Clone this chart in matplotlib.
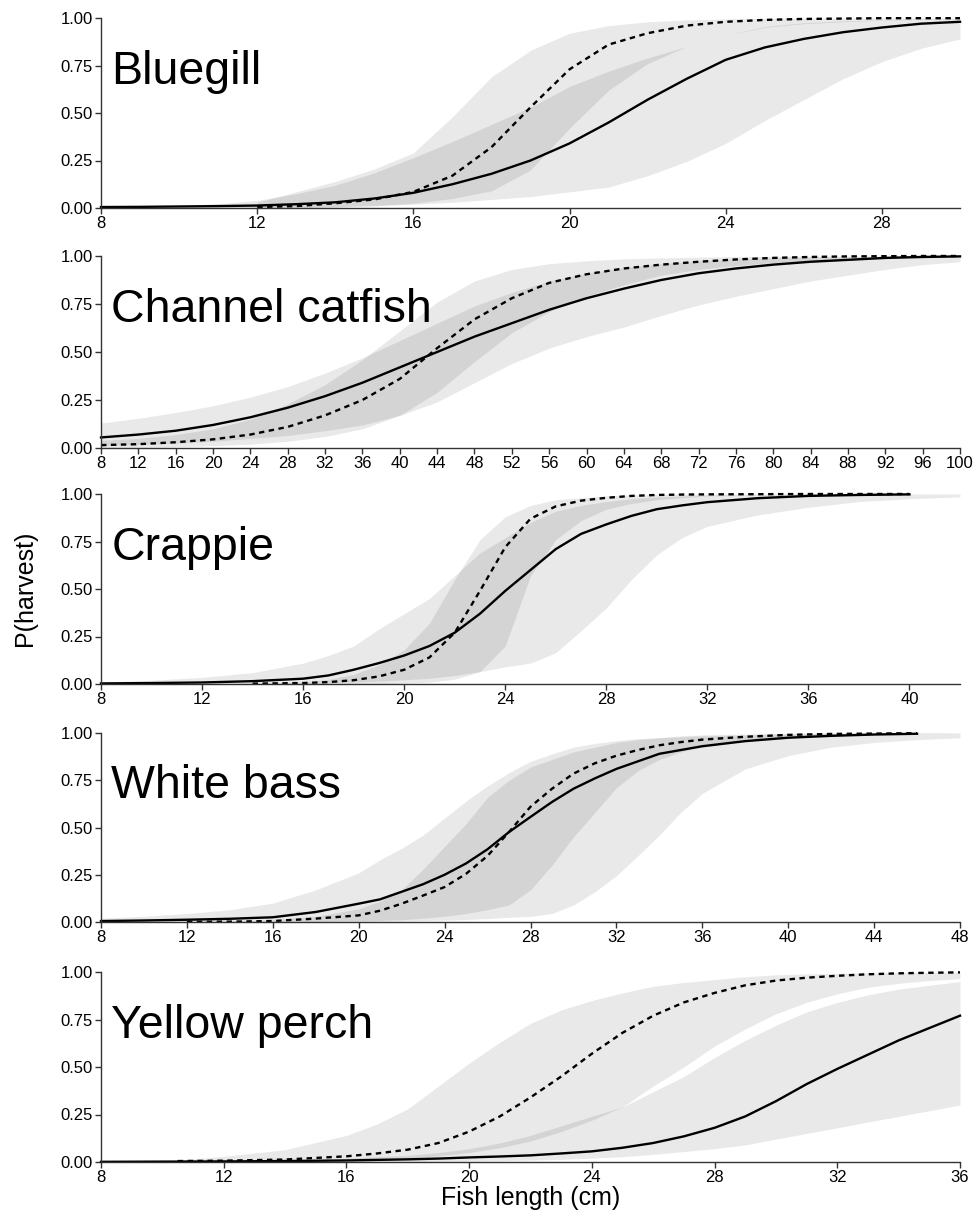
import numpy as np
import matplotlib
matplotlib.use('Agg')
import matplotlib.pyplot as plt

plt.rcParams['font.family'] = ['Liberation Sans', 'DejaVu Sans']

# ---- Bluegill ----
BG_X = [8, 9, 10, 11, 12, 13, 14, 15, 16, 17, 18, 19, 20, 21, 22, 23, 24, 25, 26, 27, 28, 29, 30]
BG_SOLID = [0.005, 0.006, 0.008, 0.010, 0.013, 0.020, 0.030, 0.050, 0.080, 0.125, 0.180, 0.250,
            0.340, 0.450, 0.570, 0.680, 0.780, 0.845, 0.890, 0.925, 0.950, 0.970, 0.980]
BG_SOLID_LO = [0, 0, 0, 0.001, 0.002, 0.004, 0.007, 0.012, 0.020, 0.030, 0.045, 0.060,
               0.085, 0.110, 0.170, 0.245, 0.340, 0.460, 0.570, 0.680, 0.770, 0.840, 0.890]
BG_SOLID_HI = [0.006, 0.008, 0.012, 0.022, 0.040, 0.075, 0.120, 0.185, 0.265, 0.350, 0.440, 0.530,
               0.640, 0.720, 0.790, 0.850, 0.910, 0.955, 0.975, 0.985, 0.990, 0.995, 0.997]
BG_DX = [12, 13, 14, 15, 16, 17, 18, 19, 20, 21, 22, 23, 24, 25, 26, 27, 28, 29, 30]
BG_DASH = [0.005, 0.010, 0.025, 0.045, 0.085, 0.170, 0.320, 0.530, 0.730, 0.860, 0.920, 0.960,
           0.980, 0.990, 0.995, 0.997, 0.999, 0.999, 0.999]
BG_DASH_LO = [0, 0.002, 0.005, 0.012, 0.025, 0.050, 0.090, 0.200, 0.420, 0.620, 0.760, 0.850,
              0.910, 0.950, 0.970, 0.980, 0.988, 0.992, 0.995]
BG_DASH_HI = [0.030, 0.085, 0.140, 0.205, 0.290, 0.480, 0.690, 0.830, 0.920, 0.960, 0.980, 0.990,
              0.995, 0.998, 0.999, 1.0, 1.0, 1.0, 1.0]

# ---- Channel catfish ----
CC_X = [8, 12, 16, 20, 24, 28, 32, 36, 40, 44, 48, 52, 56, 60, 64, 68, 72, 76, 80, 84, 88, 92, 96, 100]
CC_SOLID = [0.055, 0.070, 0.090, 0.120, 0.160, 0.210, 0.270, 0.340, 0.420, 0.500, 0.580, 0.650,
            0.720, 0.780, 0.830, 0.875, 0.910, 0.935, 0.955, 0.970, 0.980, 0.990, 0.995, 0.998]
CC_SOLID_LO = [0.012, 0.018, 0.025, 0.035, 0.050, 0.065, 0.090, 0.120, 0.170, 0.240, 0.340, 0.440,
               0.520, 0.580, 0.630, 0.690, 0.745, 0.790, 0.830, 0.870, 0.900, 0.930, 0.955, 0.970]
CC_SOLID_HI = [0.130, 0.155, 0.185, 0.220, 0.265, 0.320, 0.390, 0.470, 0.560, 0.650, 0.740, 0.810,
               0.870, 0.910, 0.940, 0.960, 0.975, 0.985, 0.990, 0.994, 0.996, 0.998, 0.999, 1.0]
CC_DX = CC_X
CC_DASH = [0.015, 0.020, 0.030, 0.045, 0.070, 0.110, 0.170, 0.250, 0.360, 0.520, 0.670, 0.780,
           0.860, 0.905, 0.935, 0.955, 0.970, 0.982, 0.990, 0.995, 0.998, 0.999, 1.0, 1.0]
CC_DASH_LO = [0.002, 0.004, 0.007, 0.012, 0.020, 0.035, 0.060, 0.100, 0.170, 0.290, 0.450, 0.600,
              0.710, 0.790, 0.850, 0.900, 0.930, 0.950, 0.965, 0.975, 0.983, 0.990, 0.994, 0.997]
CC_DASH_HI = [0.040, 0.050, 0.070, 0.100, 0.150, 0.230, 0.330, 0.460, 0.610, 0.760, 0.870, 0.930,
              0.960, 0.975, 0.985, 0.990, 0.994, 0.997, 0.998, 0.999, 1.0, 1.0, 1.0, 1.0]

# ---- Crappie ----
CR_X = [8, 10, 12, 14, 16, 17, 18, 19, 20, 21, 22, 23, 24, 25, 26, 27, 28, 29, 30, 31, 32, 34, 36, 38, 40, 42]
CR_SOLID = [0.003, 0.005, 0.008, 0.015, 0.028, 0.045, 0.075, 0.110, 0.150, 0.200, 0.270, 0.370,
            0.490, 0.600, 0.710, 0.790, 0.840, 0.885, 0.920, 0.940, 0.957, 0.978, 0.990, 0.995, 0.998, 0.999]
CR_SOLID_LO = [0, 0, 0.001, 0.002, 0.004, 0.006, 0.010, 0.015, 0.022, 0.030, 0.045, 0.065,
               0.090, 0.110, 0.165, 0.280, 0.400, 0.550, 0.680, 0.770, 0.830, 0.890, 0.930, 0.960, 0.975, 0.985]
CR_SOLID_HI = [0.010, 0.020, 0.035, 0.060, 0.110, 0.150, 0.200, 0.290, 0.370, 0.450, 0.570, 0.690,
               0.770, 0.850, 0.910, 0.940, 0.960, 0.975, 0.985, 0.990, 0.993, 0.997, 0.999, 1.0, 1.0, 1.0]
CR_DX = [14, 16, 17, 18, 19, 20, 21, 22, 23, 24, 25, 26, 27, 28, 29, 30, 31, 32, 34, 36, 38, 40]
CR_DASH = [0.002, 0.005, 0.010, 0.020, 0.040, 0.075, 0.140, 0.270, 0.490, 0.720, 0.870, 0.935,
           0.965, 0.980, 0.990, 0.995, 0.997, 0.998, 0.999, 1.0, 1.0, 1.0]
CR_DASH_LO = [0, 0, 0, 0.001, 0.002, 0.005, 0.010, 0.025, 0.065, 0.200, 0.570, 0.760,
              0.860, 0.920, 0.950, 0.970, 0.980, 0.990, 0.995, 0.998, 0.999, 0.999]
CR_DASH_HI = [0.003, 0.010, 0.025, 0.050, 0.100, 0.180, 0.320, 0.550, 0.760, 0.880, 0.940, 0.970,
              0.980, 0.990, 0.995, 0.997, 0.998, 0.999, 1.0, 1.0, 1.0, 1.0]

# ---- White bass ----
WB_X = [8, 10, 12, 14, 16, 18, 20, 21, 22, 23, 24, 25, 26, 27, 28, 29, 30, 31, 32, 33, 34, 35, 36, 38, 40, 42, 44, 46, 48]
WB_SOLID = [0.005, 0.008, 0.012, 0.017, 0.025, 0.053, 0.097, 0.120, 0.160, 0.200, 0.250, 0.310,
            0.385, 0.476, 0.556, 0.635, 0.705, 0.760, 0.810, 0.850, 0.890, 0.910, 0.930, 0.957,
            0.975, 0.985, 0.992, 0.996, 0.998]
WB_SOLID_LO = [0, 0, 0.001, 0.001, 0.002, 0.003, 0.004, 0.005, 0.006, 0.008, 0.010, 0.013,
               0.018, 0.025, 0.030, 0.045, 0.090, 0.160, 0.245, 0.350, 0.460, 0.580, 0.680, 0.810,
               0.880, 0.925, 0.950, 0.965, 0.975]
WB_SOLID_HI = [0.020, 0.030, 0.045, 0.065, 0.100, 0.170, 0.260, 0.330, 0.390, 0.460, 0.550, 0.640,
               0.720, 0.790, 0.850, 0.890, 0.925, 0.945, 0.960, 0.970, 0.975, 0.980, 0.985, 0.990,
               0.995, 0.997, 0.998, 0.999, 0.999]
WB_DX = [12, 14, 16, 18, 20, 21, 22, 23, 24, 25, 26, 27, 28, 29, 30, 31, 32, 33, 34, 35, 36, 38, 40, 42, 44, 46, 48]
WB_DASH = [0.001, 0.002, 0.005, 0.018, 0.035, 0.060, 0.097, 0.140, 0.185, 0.255, 0.350, 0.476,
           0.610, 0.705, 0.785, 0.840, 0.880, 0.910, 0.935, 0.952, 0.965, 0.980, 0.990, 0.995,
           0.997, 0.999, 1.0]
WB_DASH_LO = [0, 0, 0.001, 0.003, 0.005, 0.008, 0.012, 0.020, 0.030, 0.045, 0.065, 0.090,
              0.170, 0.300, 0.450, 0.580, 0.710, 0.800, 0.860, 0.900, 0.930, 0.965, 0.980, 0.990,
              0.995, 0.997, 0.998]
WB_DASH_HI = [0.002, 0.005, 0.012, 0.030, 0.070, 0.110, 0.170, 0.280, 0.400, 0.520, 0.660, 0.750,
              0.820, 0.860, 0.900, 0.925, 0.950, 0.965, 0.975, 0.985, 0.990, 0.995, 0.999, 1.0,
              1.0, 1.0, 1.0]

# ---- Yellow perch ----
YP_X = [8, 10, 12, 14, 16, 18, 19, 20, 21, 22, 23, 24, 25, 26, 27, 28, 29, 30, 31, 32, 33, 34, 35, 36]
YP_SOLID = [0.001, 0.002, 0.003, 0.005, 0.008, 0.014, 0.018, 0.024, 0.029, 0.035, 0.045, 0.056,
            0.075, 0.100, 0.135, 0.180, 0.240, 0.320, 0.410, 0.490, 0.565, 0.640, 0.705, 0.770]
YP_SOLID_LO = [0, 0, 0, 0, 0.001, 0.002, 0.003, 0.005, 0.007, 0.010, 0.014, 0.020,
               0.028, 0.040, 0.055, 0.070, 0.090, 0.120, 0.150, 0.180, 0.210, 0.240, 0.270, 0.300]
YP_SOLID_HI = [0.003, 0.004, 0.007, 0.012, 0.020, 0.035, 0.050, 0.070, 0.100, 0.140, 0.190, 0.240,
               0.290, 0.370, 0.450, 0.550, 0.640, 0.720, 0.790, 0.840, 0.880, 0.910, 0.930, 0.950]
YP_DX = [10.5, 12, 14, 16, 17, 18, 19, 20, 21, 22, 23, 24, 25, 26, 27, 28, 29, 30, 31, 32, 33, 34, 35, 36]
YP_DASH = [0.005, 0.007, 0.013, 0.030, 0.045, 0.065, 0.100, 0.160, 0.240, 0.340, 0.450, 0.570,
           0.680, 0.770, 0.840, 0.890, 0.930, 0.955, 0.970, 0.980, 0.988, 0.993, 0.996, 0.998]
YP_DASH_LO = [0, 0, 0.003, 0.008, 0.013, 0.020, 0.032, 0.050, 0.075, 0.110, 0.160, 0.220,
              0.290, 0.400, 0.500, 0.610, 0.700, 0.780, 0.840, 0.885, 0.920, 0.940, 0.955, 0.965]
YP_DASH_HI = [0.010, 0.030, 0.065, 0.140, 0.200, 0.280, 0.400, 0.520, 0.630, 0.730, 0.800, 0.850,
              0.890, 0.925, 0.945, 0.960, 0.975, 0.985, 0.990, 0.993, 0.995, 0.997, 0.998, 0.999]

# x tick sets
BG_TICKS = [8, 12, 16, 20, 24, 28]
CC_TICKS = list(range(8, 101, 4))
CR_TICKS = [8, 12, 16, 20, 24, 28, 32, 36, 40]
WB_TICKS = [8, 12, 16, 20, 24, 28, 32, 36, 40, 44, 48]
YP_TICKS = [8, 12, 16, 20, 24, 28, 32, 36]

Y_TICKS = [0, 0.25, 0.5, 0.75, 1.0]
Y_TICK_LABELS = ['0.00', '0.25', '0.50', '0.75', '1.00']

# name, solid series, dashed series, x max, ticks, last x drawn for lines
PANELS = [
    ("Bluegill", (BG_X, BG_SOLID, BG_SOLID_LO, BG_SOLID_HI),
     (BG_DX, BG_DASH, BG_DASH_LO, BG_DASH_HI), 30, BG_TICKS, 30),
    ("Channel catfish", (CC_X, CC_SOLID, CC_SOLID_LO, CC_SOLID_HI),
     (CC_DX, CC_DASH, CC_DASH_LO, CC_DASH_HI), 100, CC_TICKS, 100),
    ("Crappie", (CR_X, CR_SOLID, CR_SOLID_LO, CR_SOLID_HI),
     (CR_DX, CR_DASH, CR_DASH_LO, CR_DASH_HI), 42, CR_TICKS, 40),
    ("White bass", (WB_X, WB_SOLID, WB_SOLID_LO, WB_SOLID_HI),
     (WB_DX, WB_DASH, WB_DASH_LO, WB_DASH_HI), 48, WB_TICKS, 46),
    ("Yellow perch", (YP_X, YP_SOLID, YP_SOLID_LO, YP_SOLID_HI),
     (YP_DX, YP_DASH, YP_DASH_LO, YP_DASH_HI), 36, YP_TICKS, 36),
]

# panel rows in pixels (top, bottom)
ROWS = [(18, 208), (256, 448), (494, 684), (733, 922), (972, 1162)]
W, H = 976, 1211
LEFT, RIGHT = 101, 960
BAND = dict(color='black', alpha=0.085, linewidth=0)
AXCOL = '#333333'

fig = plt.figure(figsize=(W / 100, H / 100), dpi=100)

for (name, solid, dashed, xmax, ticks, line_end), (top, bot) in zip(PANELS, ROWS):
    ax = fig.add_axes([LEFT / W, 1 - bot / H, (RIGHT - LEFT) / W, (bot - top) / H])

    sx, s, slo, shi = (np.asarray(a, dtype=float) for a in solid)
    dx, d, dlo, dhi = (np.asarray(a, dtype=float) for a in dashed)

    ax.fill_between(sx, slo, shi, **BAND)
    ax.fill_between(dx, dlo, dhi, **BAND)

    ms = sx <= line_end
    md = dx <= line_end
    ax.plot(sx[ms], s[ms], color='black', lw=1.7, clip_on=False)
    ax.plot(dx[md], d[md], color='black', lw=1.7, ls=(0, (2.3, 1.9)), clip_on=False)

    ax.set_xlim(8, xmax)
    ax.set_ylim(0, 1)
    ax.set_xticks(ticks)
    ax.set_yticks(Y_TICKS)
    ax.set_yticklabels(Y_TICK_LABELS)
    ax.tick_params(axis='both', labelsize=12, length=4, width=1.0, color=AXCOL, direction='out')
    ax.tick_params(axis='x', pad=1.5)
    ax.tick_params(axis='y', pad=2)

    for side in ('top', 'right'):
        ax.spines[side].set_visible(False)
    for side in ('left', 'bottom'):
        ax.spines[side].set_color(AXCOL)
        ax.spines[side].set_linewidth(1.0)

    ax.text(0.012, 0.655, name, transform=ax.transAxes, fontsize=33.5,
            va='baseline', ha='left', color='black')

fig.text(25 / W, 1 - 588 / H, 'P(harvest)', rotation=90, fontsize=18,
         ha='center', va='center')
fig.text((LEFT + RIGHT) / 2 / W, 1 - 1205 / H, 'Fish length (cm)', fontsize=18,
         ha='center', va='baseline')

fig.savefig('out.png', dpi=100)
